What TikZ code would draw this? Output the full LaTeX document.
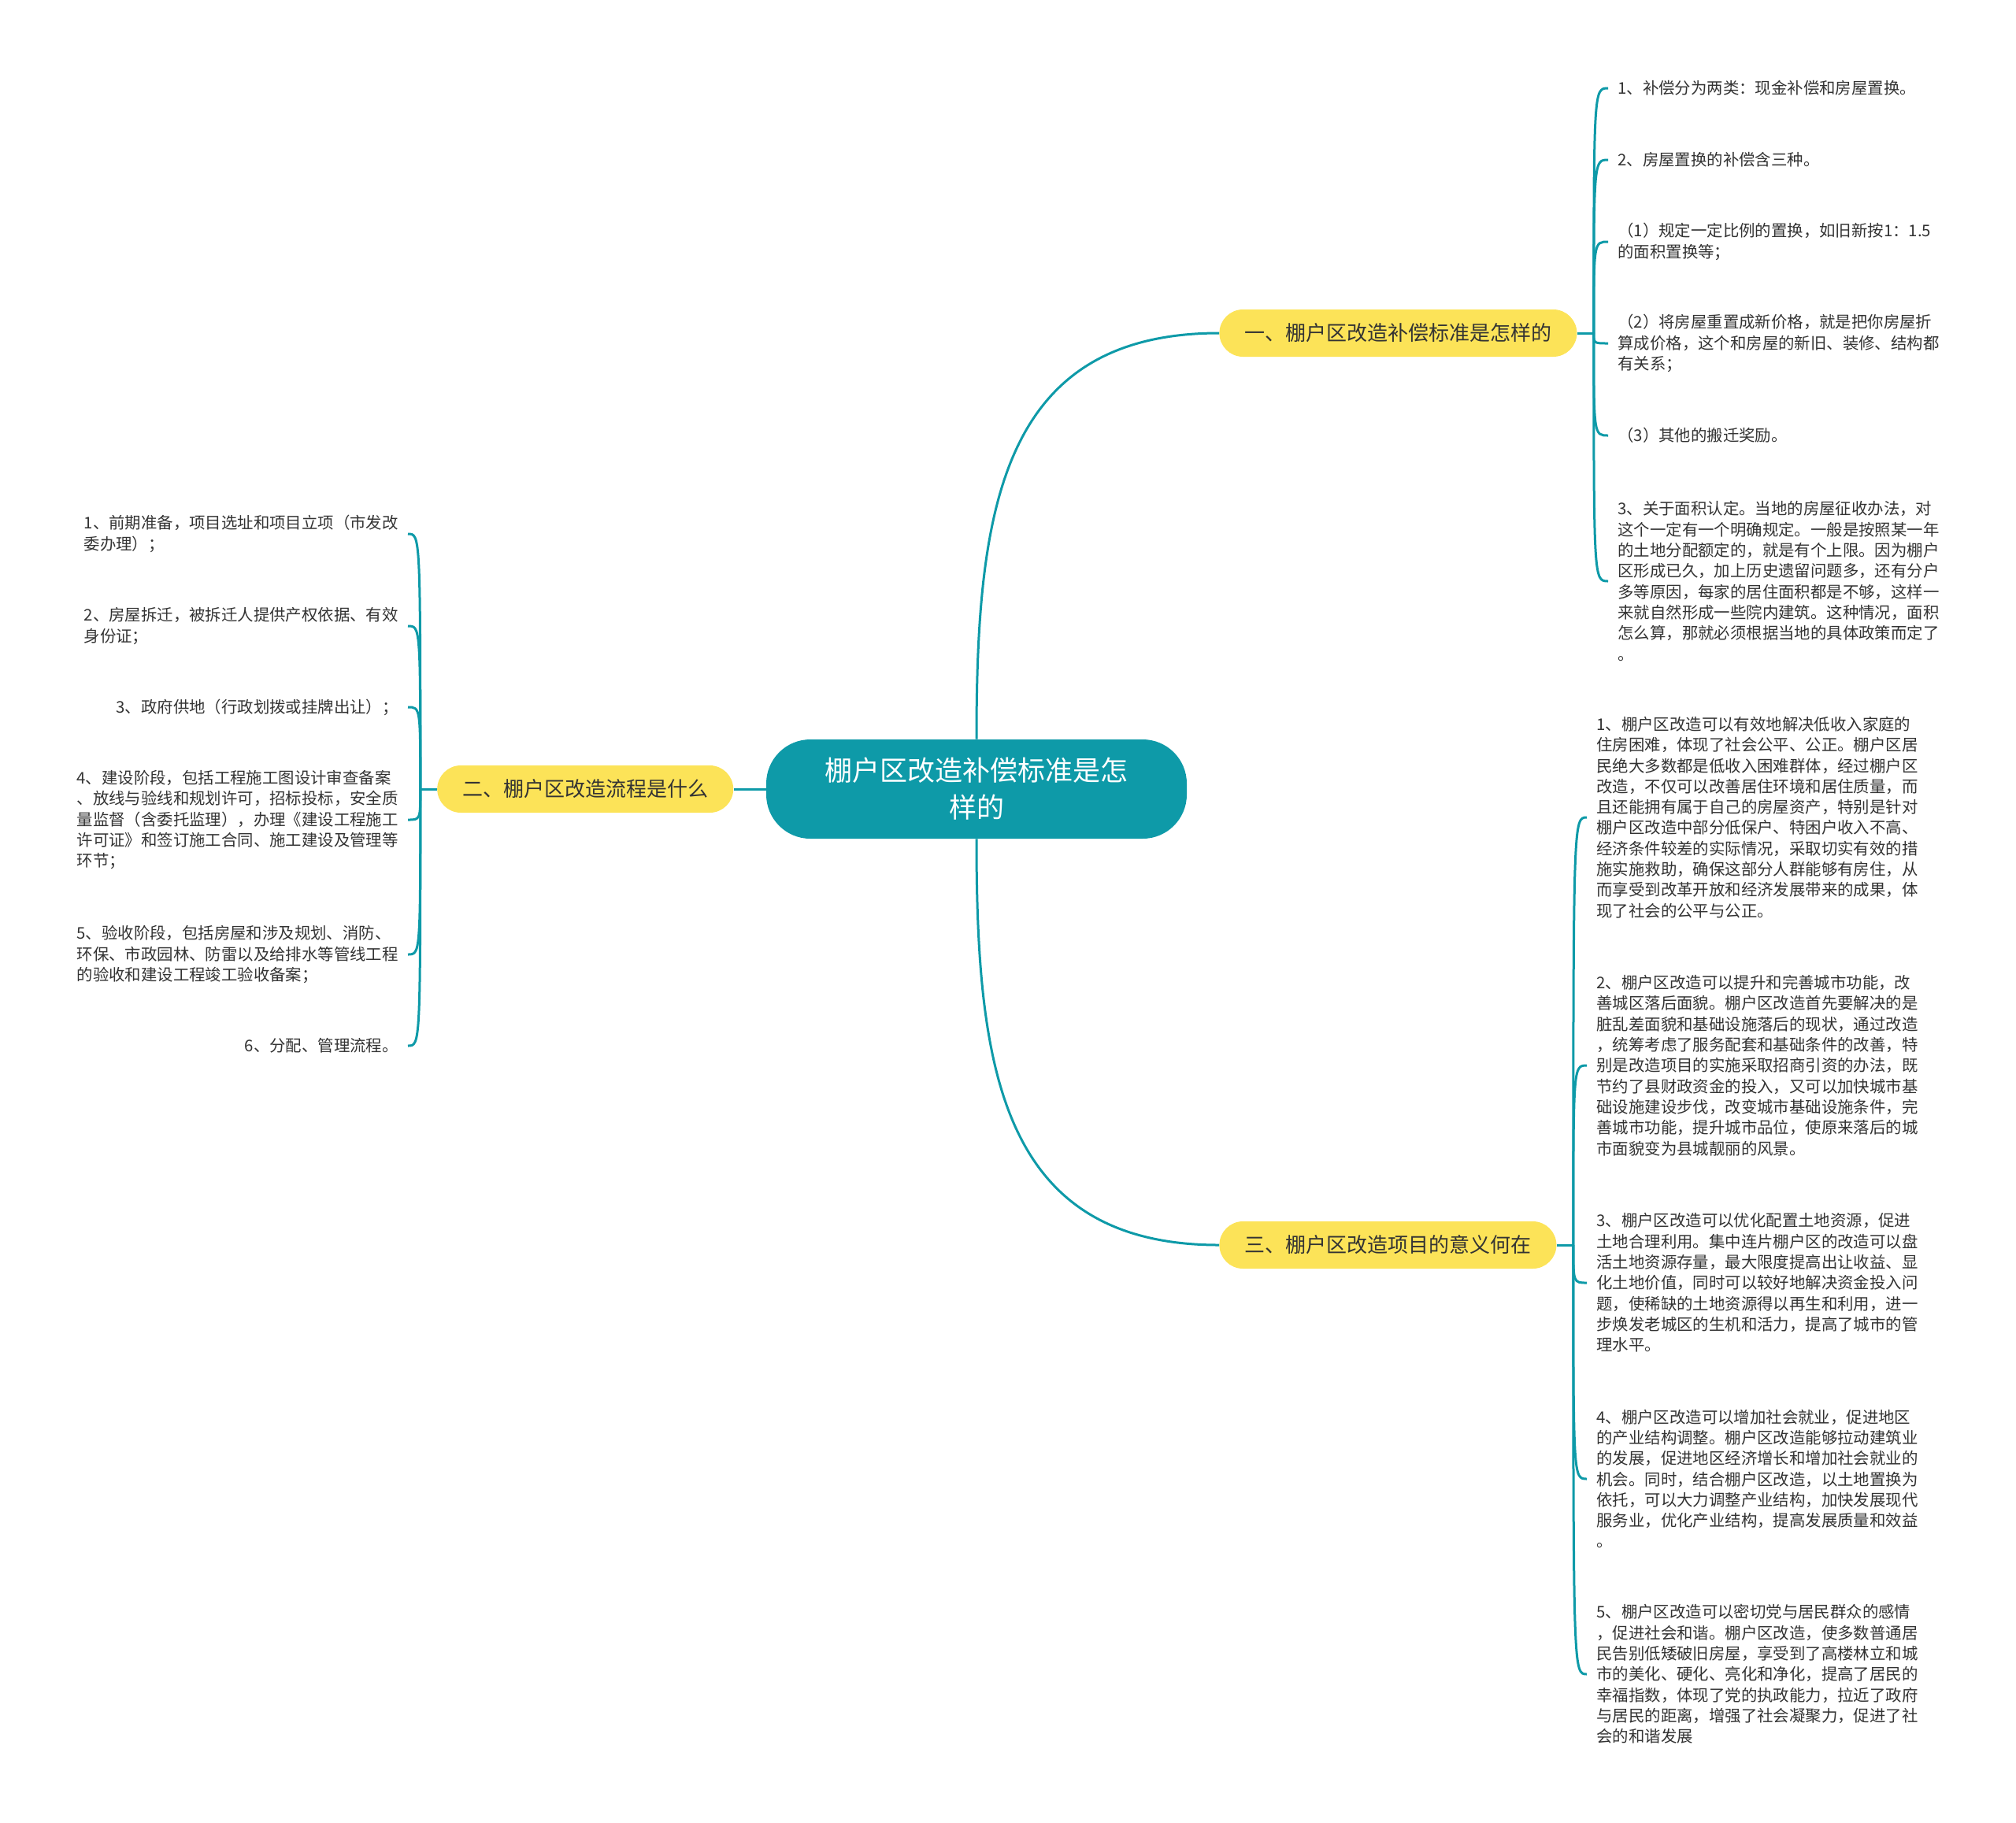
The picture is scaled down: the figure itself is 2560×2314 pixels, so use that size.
\documentclass[tikz,border=0pt]{standalone}
\usepackage{fontspec}
\setmainfont{Noto Sans CJK SC}
\usetikzlibrary{positioning, calc}
\definecolor{tealline}{RGB}{14,154,168}
\definecolor{pillyellow}{RGB}{252,227,88}
\definecolor{textgray}{RGB}{51,51,51}

\begin{document}
\begin{tikzpicture}[
    x=0.5pt, y=-0.5pt,
    root/.style={fill=tealline, text=white, rounded corners=28pt, minimum width=267pt, minimum height=63pt, align=center, font=\fontsize{17.5pt}{23.5pt}\selectfont},
    branch/.style={fill=pillyellow, text=textgray, rounded corners=15pt, minimum height=30pt, inner xsep=16pt, font=\fontsize{13pt}{15pt}\selectfont},
    leaf/.style={text=textgray, align=left, inner xsep=6pt, inner ysep=0pt, font=\fontsize{10.2pt}{13.15pt}\selectfont},
    link/.style={draw=tealline, line width=1.5pt},
]
    \useasboundingbox (0,0) rectangle (2560,2314);

    \node[root] (root) at (1240,1002) {棚户区改造补偿标准是怎\\样的};

    \node[branch, anchor=west] (b1) at (1548,423) {一、棚户区改造补偿标准是怎样的};
    \node[branch, left=20.5pt of root] (b2) {二、棚户区改造流程是什么};
    \node[branch, anchor=west] (b3) at (1548,1581) {三、棚户区改造项目的意义何在};

    \draw[link] (root.north) .. controls +(0,-290) and +(-278,0) .. (b1.west);
    \draw[link] (root.west) -- (b2.east);
    \draw[link] (root.south) .. controls +(0,290) and +(-278,0) .. (b3.west);

    \coordinate (j1) at ($(b1.east)+(21,0)$);
    \coordinate (j2) at ($(b2.west)+(-21,0)$);
    \coordinate (j3) at ($(b3.east)+(21,0)$);
    \draw[link] (b1.east) -- (j1);
    \draw[link] (b2.west) -- (j2);
    \draw[link] (b3.east) -- (j3);

    % 一
    \node[leaf, anchor=west] (r1a) at (2042,112) {1、补偿分为两类：现金补偿和房屋置换。};
    \node[leaf, anchor=west] (r1b) at (2042,203) {2、房屋置换的补偿含三种。};
    \node[leaf, anchor=west] (r1c) at (2042,307) {（1）规定一定比例的置换，如旧新按1：1.5\\的面积置换等；};
    \node[leaf, anchor=west] (r1d) at (2042,436) {（2）将房屋重置成新价格，就是把你房屋折\\算成价格，这个和房屋的新旧、装修、结构都\\有关系；};
    \node[leaf, anchor=west] (r1e) at (2042,553) {（3）其他的搬迁奖励。};
    \node[leaf, anchor=west] (r1f) at (2042,738) {3、关于面积认定。当地的房屋征收办法，对\\这个一定有一个明确规定。一般是按照某一年\\的土地分配额定的，就是有个上限。因为棚户\\区形成已久，加上历史遗留问题多，还有分户\\多等原因，每家的居住面积都是不够，这样一\\来就自然形成一些院内建筑。这种情况，面积\\怎么算，那就必须根据当地的具体政策而定了\\。};
    \foreach \n in {r1a, r1b, r1c, r1d, r1e, r1f}
        \draw[link] (j1) .. controls (j1 |- \n.west) .. (\n.west);

    % 二
    \node[leaf, anchor=east] (l2a) at (518,678) {1、前期准备，项目选址和项目立项（市发改\\委办理）；};
    \node[leaf, anchor=east] (l2b) at (518,795) {2、房屋拆迁，被拆迁人提供产权依据、有效\\身份证；};
    \node[leaf, anchor=east] (l2c) at (518,898) {3、政府供地（行政划拨或挂牌出让）；};
    \node[leaf, anchor=east] (l2d) at (518,1041) {4、建设阶段，包括工程施工图设计审查备案\\、放线与验线和规划许可，招标投标，安全质\\量监督（含委托监理），办理《建设工程施工\\许可证》和签订施工合同、施工建设及管理等\\环节；};
    \node[leaf, anchor=east] (l2e) at (518,1212) {5、验收阶段，包括房屋和涉及规划、消防、\\环保、市政园林、防雷以及给排水等管线工程\\的验收和建设工程竣工验收备案；};
    \node[leaf, anchor=east] (l2f) at (518,1328) {6、分配、管理流程。};
    \foreach \n in {l2a, l2b, l2c, l2d, l2e, l2f}
        \draw[link] (j2) .. controls (j2 |- \n.east) .. (\n.east);

    % 三
    \node[leaf, anchor=west] (r3a) at (2015,1038) {1、棚户区改造可以有效地解决低收入家庭的\\住房困难，体现了社会公平、公正。棚户区居\\民绝大多数都是低收入困难群体，经过棚户区\\改造，不仅可以改善居住环境和居住质量，而\\且还能拥有属于自己的房屋资产，特别是针对\\棚户区改造中部分低保户、特困户收入不高、\\经济条件较差的实际情况，采取切实有效的措\\施实施救助，确保这部分人群能够有房住，从\\而享受到改革开放和经济发展带来的成果，体\\现了社会的公平与公正。};
    \node[leaf, anchor=west] (r3b) at (2015,1353) {2、棚户区改造可以提升和完善城市功能，改\\善城区落后面貌。棚户区改造首先要解决的是\\脏乱差面貌和基础设施落后的现状，通过改造\\，统筹考虑了服务配套和基础条件的改善，特\\别是改造项目的实施采取招商引资的办法，既\\节约了县财政资金的投入，又可以加快城市基\\础设施建设步伐，改变城市基础设施条件，完\\善城市功能，提升城市品位，使原来落后的城\\市面貌变为县城靓丽的风景。};
    \node[leaf, anchor=west] (r3c) at (2015,1629) {3、棚户区改造可以优化配置土地资源，促进\\土地合理利用。集中连片棚户区的改造可以盘\\活土地资源存量，最大限度提高出让收益、显\\化土地价值，同时可以较好地解决资金投入问\\题，使稀缺的土地资源得以再生和利用，进一\\步焕发老城区的生机和活力，提高了城市的管\\理水平。};
    \node[leaf, anchor=west] (r3d) at (2015,1878) {4、棚户区改造可以增加社会就业，促进地区\\的产业结构调整。棚户区改造能够拉动建筑业\\的发展，促进地区经济增长和增加社会就业的\\机会。同时，结合棚户区改造，以土地置换为\\依托，可以大力调整产业结构，加快发展现代\\服务业，优化产业结构，提高发展质量和效益\\。};
    \node[leaf, anchor=west] (r3e) at (2015,2126) {5、棚户区改造可以密切党与居民群众的感情\\，促进社会和谐。棚户区改造，使多数普通居\\民告别低矮破旧房屋，享受到了高楼林立和城\\市的美化、硬化、亮化和净化，提高了居民的\\幸福指数，体现了党的执政能力，拉近了政府\\与居民的距离，增强了社会凝聚力，促进了社\\会的和谐发展};
    \foreach \n in {r3a, r3b, r3c, r3d, r3e}
        \draw[link] (j3) .. controls (j3 |- \n.west) .. (\n.west);
\end{tikzpicture}
\end{document}
